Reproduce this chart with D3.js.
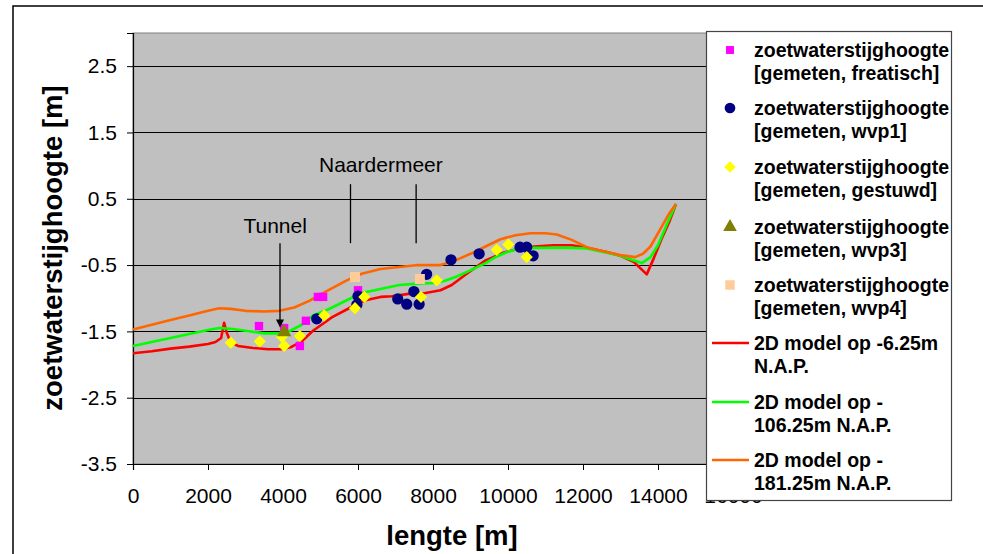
<!DOCTYPE html>
<html>
<head>
<meta charset="utf-8">
<script src="https://cdn.jsdelivr.net/npm/d3@7"></script>
<style>
  body { margin: 0; background: #fff; }
  svg text { font-family: "Liberation Sans", Arial, sans-serif; }
</style>
</head>
<body>
<svg id="chart" width="983" height="554"></svg>
<script>
// ---------- data ----------
const xTicks = [0, 2000, 4000, 6000, 8000, 10000, 12000, 14000, 16000];
const yTicks = [2.5, 1.5, 0.5, -0.5, -1.5, -2.5, -3.5];

const redX = [0, 500, 1000, 1500, 2000, 2200, 2350, 2430, 2500, 2600, 2800, 3200, 3600, 3950, 4200, 4500, 4800, 5300, 5800, 6200, 6600, 6900, 7400, 7800, 8200, 8500, 8900, 9400, 9900, 10300, 10700, 11200, 11700, 12100, 12600, 13000, 13350, 13700, 13900, 14100, 14300, 14480];
const redY = [-1.83, -1.80, -1.76, -1.73, -1.69, -1.66, -1.60, -1.37, -1.52, -1.66, -1.72, -1.75, -1.77, -1.77, -1.74, -1.65, -1.49, -1.29, -1.14, -1.03, -0.98, -0.97, -0.93, -0.92, -0.88, -0.80, -0.63, -0.43, -0.31, -0.25, -0.22, -0.20, -0.20, -0.24, -0.30, -0.36, -0.45, -0.64, -0.38, -0.10, 0.15, 0.42];

const greenX = [0, 500, 1000, 1500, 2000, 2300, 2600, 3000, 3500, 3900, 4200, 4500, 4800, 5200, 5700, 6100, 6600, 7100, 7600, 8000, 8300, 8600, 9000, 9400, 9700, 10000, 10300, 10700, 11200, 11700, 12100, 12600, 13000, 13300, 13570, 13800, 14000, 14250, 14480];
const greenY = [-1.72, -1.66, -1.60, -1.54, -1.48, -1.45, -1.46, -1.49, -1.53, -1.53, -1.49, -1.40, -1.26, -1.17, -1.03, -0.92, -0.86, -0.80, -0.78, -0.77, -0.74, -0.68, -0.58, -0.47, -0.37, -0.30, -0.25, -0.24, -0.24, -0.24, -0.25, -0.31, -0.36, -0.42, -0.47, -0.38, -0.20, 0.13, 0.42];

const orangeX = [0, 500, 1000, 1500, 2000, 2300, 2600, 3000, 3500, 3900, 4300, 4700, 5200, 5700, 6100, 6600, 7100, 7600, 8200, 8600, 9000, 9400, 9800, 10200, 10600, 11000, 11300, 11700, 12100, 12600, 13000, 13390, 13600, 13800, 14050, 14300, 14480];
const orangeY = [-1.47, -1.40, -1.33, -1.26, -1.19, -1.15, -1.16, -1.19, -1.20, -1.19, -1.14, -1.04, -0.88, -0.73, -0.63, -0.56, -0.53, -0.50, -0.50, -0.43, -0.33, -0.22, -0.11, -0.05, -0.02, -0.02, -0.04, -0.12, -0.23, -0.30, -0.35, -0.38, -0.33, -0.22, 0.03, 0.28, 0.42];

const freatischX = [3360, 4030, 4610, 4450, 4930, 5070, 6000];
const freatischY = [-1.42, -1.45, -1.34, -1.72, -0.98, -0.98, -0.88];

const wvp1X = [4900, 5970, 6000, 7060, 7300, 7630, 7490, 7830, 8480, 9230, 10320, 10500, 10670];
const wvp1Y = [-1.31, -1.10, -0.97, -1.01, -1.09, -1.09, -0.90, -0.64, -0.42, -0.33, -0.23, -0.23, -0.36];

const gestuwdX = [2610, 3380, 3970, 4030, 4450, 5100, 5920, 6170, 7680, 8100, 9700, 10010, 10500];
const gestuwdY = [-1.67, -1.65, -1.58, -1.72, -1.57, -1.26, -1.15, -0.98, -0.98, -0.73, -0.27, -0.19, -0.38];

const wvp3X = [4030];
const wvp3Y = [-1.51];

const wvp4X = [5920, 7650];
const wvp4Y = [-0.68, -0.71];

const legendLabels = [
  ["zoetwaterstijghoogte", "[gemeten, freatisch]"],
  ["zoetwaterstijghoogte", "[gemeten, wvp1]"],
  ["zoetwaterstijghoogte", "[gemeten, gestuwd]"],
  ["zoetwaterstijghoogte", "[gemeten, wvp3]"],
  ["zoetwaterstijghoogte", "[gemeten, wvp4]"],
  ["2D model op -6.25m", "N.A.P."],
  ["2D model op -", "106.25m N.A.P."],
  ["2D model op -", "181.25m N.A.P."]
];

// annotations in data units
const tunnelLabel = { text: "Tunnel", x: 3790, y: -0.02 };
const tunnelArrow = { x: 3920, y0: -0.17, y1: -1.44 };
const naarderLabel = { text: "Naardermeer", x: 6610, y: 0.90 };
const naarderLinesX = [5800, 7550];
const naarderLinesY = [0.72, -0.17];

const xTitle = "lengte [m]";
const yTitle = "zoetwaterstijghoogte [m]";

// ---------- layout ----------
const svg = d3.select("#chart");
const plot = { left: 133, top: 33, right: 733, bottom: 464 };

const x = d3.scaleLinear().domain([0, 16000]).range([plot.left, plot.right]);
const y = d3.scaleLinear().domain([-3.5, 3.0]).range([plot.bottom, plot.top]);

// outer frame
svg.append("rect").attr("x", 13).attr("y", 6).attr("width", 1000).attr("height", 600)
  .attr("fill", "#fff").attr("stroke", "#000").attr("stroke-width", 1.5);

// plot area
svg.append("rect").attr("x", plot.left).attr("y", plot.top)
  .attr("width", plot.right - plot.left).attr("height", plot.bottom - plot.top)
  .attr("fill", "#c0c0c0").attr("stroke", "#808080").attr("stroke-width", 1);

// gridlines
svg.append("g").selectAll("line").data(yTicks).join("line")
  .attr("x1", plot.left).attr("x2", plot.right)
  .attr("y1", d => Math.round(y(d)) + 0.5).attr("y2", d => Math.round(y(d)) + 0.5)
  .attr("stroke", "#000").attr("stroke-width", 1);

// axes
const yAxis = svg.append("g").attr("transform", `translate(${plot.left},0)`)
  .call(d3.axisLeft(y).tickValues(yTicks).tickSize(6).tickPadding(10).tickFormat(d => d.toFixed(1)));
const xAxis = svg.append("g").attr("transform", `translate(0,${plot.bottom})`)
  .call(d3.axisBottom(x).tickValues(xTicks).tickSize(6).tickPadding(18).tickFormat(d => String(d)));
[yAxis, xAxis].forEach(a => {
  a.selectAll("path.domain").attr("stroke", "#000").attr("stroke-width", 1.2);
  a.selectAll(".tick line").attr("stroke", "#000");
  a.selectAll(".tick text").attr("font-size", 21).attr("fill", "#000")
    .style("font-family", '"Liberation Sans", Arial, sans-serif');
});

// titles
svg.append("text").attr("x", 452).attr("y", 545).attr("text-anchor", "middle")
  .attr("font-size", 27.5).attr("font-weight", "bold").text(xTitle);
svg.append("text").attr("transform", "translate(62,248) rotate(-90)").attr("text-anchor", "middle")
  .attr("font-size", 27.5).attr("font-weight", "bold").text(yTitle);

// model lines
const lineGen = d3.line().x(d => x(d[0])).y(d => y(d[1]));
const zip = (xs, ys) => xs.map((v, i) => [v, ys[i]]);
const lines = [
  { xs: redX, ys: redY, color: "#ff0000" },
  { xs: greenX, ys: greenY, color: "#00ff00" },
  { xs: orangeX, ys: orangeY, color: "#ff6600" }
];
lines.forEach(l => {
  svg.append("path").datum(zip(l.xs, l.ys)).attr("d", lineGen)
    .attr("fill", "none").attr("stroke", l.color).attr("stroke-width", 2.6)
    .attr("stroke-linejoin", "round");
});

// markers
const symTypes = { square: d3.symbolSquare, circle: d3.symbolCircle, diamond: d3.symbolDiamond2, triangle: d3.symbolTriangle };
const scatter = [
  { xs: freatischX, ys: freatischY, type: "square", size: 70, color: "#ff00ff" },
  { xs: wvp1X, ys: wvp1Y, type: "circle", size: 100, color: "#000080" },
  { xs: gestuwdX, ys: gestuwdY, type: "diamond", size: 95, color: "#ffff00" },
  { xs: wvp3X, ys: wvp3Y, type: "triangle", size: 90, color: "#808000" },
  { xs: wvp4X, ys: wvp4Y, type: "square", size: 100, color: "#ffcc99" }
];
function drawSymbol(g, s, cx, cy, scale) {
  const gen = d3.symbol().type(symTypes[s.type]).size(s.size * scale);
  g.append("path").attr("d", gen()).attr("transform", `translate(${cx},${cy})`).attr("fill", s.color);
}
scatter.forEach(s => {
  const g = svg.append("g");
  s.xs.forEach((v, i) => drawSymbol(g, s, x(v), y(s.ys[i]), 1));
});

// annotations
svg.append("text").attr("x", x(tunnelLabel.x)).attr("y", y(tunnelLabel.y)).attr("text-anchor", "middle")
  .attr("font-size", 21).text(tunnelLabel.text);
svg.append("line").attr("x1", x(tunnelArrow.x)).attr("x2", x(tunnelArrow.x))
  .attr("y1", y(tunnelArrow.y0)).attr("y2", y(tunnelArrow.y1) - 6)
  .attr("stroke", "#000").attr("stroke-width", 1.3);
svg.append("path")
  .attr("d", `M${x(tunnelArrow.x) - 4},${y(tunnelArrow.y1) - 8} L${x(tunnelArrow.x) + 4},${y(tunnelArrow.y1) - 8} L${x(tunnelArrow.x)},${y(tunnelArrow.y1)} Z`)
  .attr("fill", "#000");
svg.append("text").attr("x", x(naarderLabel.x)).attr("y", y(naarderLabel.y)).attr("text-anchor", "middle")
  .attr("font-size", 21).text(naarderLabel.text);
naarderLinesX.forEach(v => {
  svg.append("line").attr("x1", x(v)).attr("x2", x(v))
    .attr("y1", y(naarderLinesY[0])).attr("y2", y(naarderLinesY[1]))
    .attr("stroke", "#000").attr("stroke-width", 1.3);
});

// legend
const lg = svg.append("g");
lg.append("rect").attr("x", 706.5).attr("y", 31.5).attr("width", 245).attr("height", 469)
  .attr("fill", "#fff").attr("stroke", "#444").attr("stroke-width", 1.2);
const rowY = [50, 108, 167, 227, 285, 343, 402, 460];
legendLabels.forEach((lab, i) => {
  const cy = rowY[i];
  if (i < 5) {
    drawSymbol(lg, scatter[i], 730, cy, 0.9);
  } else {
    const l = lines[i - 5];
    lg.append("line").attr("x1", 712).attr("x2", 749).attr("y1", cy).attr("y2", cy)
      .attr("stroke", l.color).attr("stroke-width", 2.6);
  }
  lg.append("text").attr("x", 754).attr("y", cy + 7).attr("font-size", 19.5).attr("font-weight", "bold").text(lab[0]);
  lg.append("text").attr("x", 754).attr("y", cy + 30).attr("font-size", 19.5).attr("font-weight", "bold").text(lab[1]);
});
</script>
</body>
</html>
